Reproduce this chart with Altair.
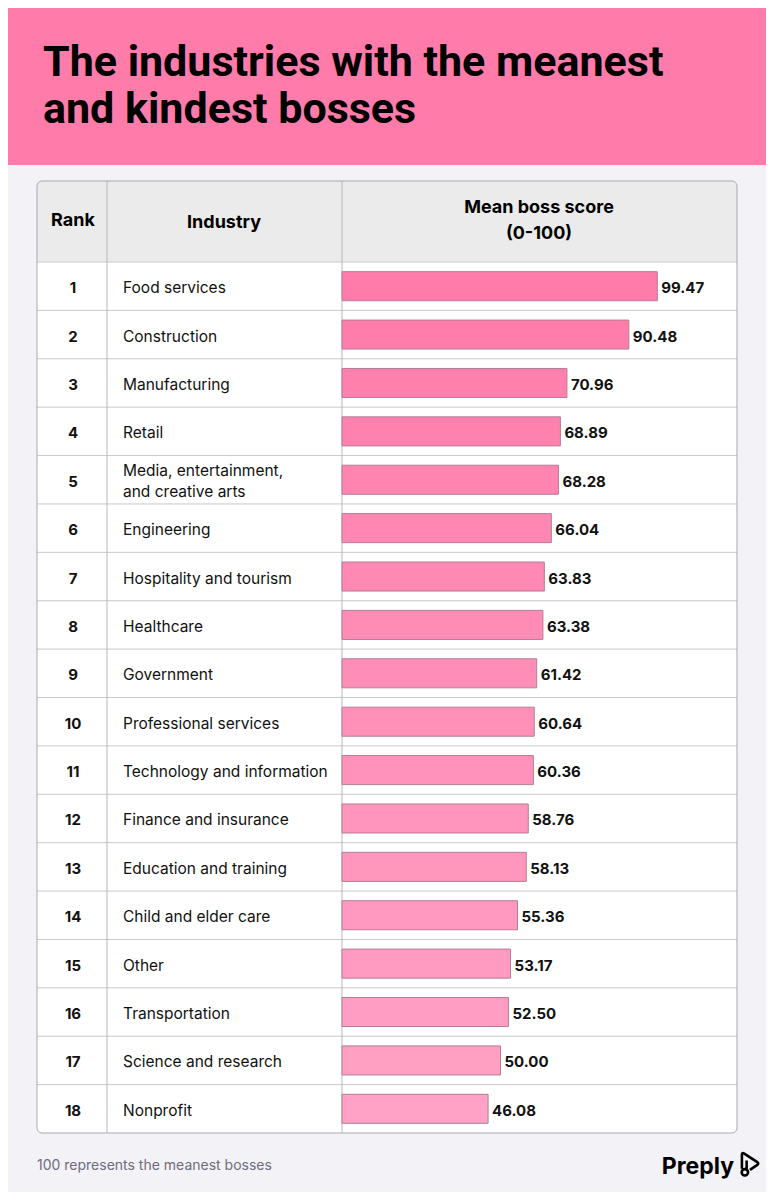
import altair as alt
import pandas as pd

# ---------------- data ----------------
ranks = list(range(1, 19))
industries = [
    "Food services", "Construction", "Manufacturing", "Retail",
    "Media, entertainment,\nand creative arts", "Engineering",
    "Hospitality and tourism", "Healthcare", "Government",
    "Professional services", "Technology and information",
    "Finance and insurance", "Education and training",
    "Child and elder care", "Other", "Transportation",
    "Science and research", "Nonprofit",
]
scores = [99.47, 90.48, 70.96, 68.89, 68.28, 66.04, 63.83, 63.38, 61.42,
          60.64, 60.36, 58.76, 58.13, 55.36, 53.17, 52.50, 50.00, 46.08]
score_labels = [f"{v:.2f}" for v in scores]

title_lines = ["The industries with the meanest", "and kindest bosses"]
header_rank = "Rank"
header_industry = "Industry"
header_score = ["Mean boss score", "(0-100)"]
footnote = "100 represents the meanest bosses"
brand = "Preply"

df = pd.DataFrame({"rank": ranks, "industry": industries,
                   "score": scores, "label": score_labels})
df["multi"] = df["industry"].str.contains("\n")
boundaries = pd.DataFrame({"k": list(range(0, 18))})
one = pd.DataFrame({"d": [0]})

# ---------------- layout ----------------
OX, OY = 8, 8            # page margin offset
W, H = 774 - 2 * OX, 1200 - 2 * OY
def px(x): return x - OX
def py(y): return y - OY

FONT = "Inter, Roboto, sans-serif"
TITLE_FONT = "Roboto, Liberation Sans, sans-serif"
PINK = "#FF7BA9"
BG = "#F3F2F7"
GRID = "#C9C9CE"
BORDER = "#A9A9AE"

T_L, T_R, T_T, T_B = px(37), px(737), py(181), py(1133)
HEAD_B = py(262)
COL1, COL2 = px(107), px(342)

yband = alt.Scale(type="band", domain=ranks, range=[HEAD_B, T_B],
                  paddingInner=0.4, paddingOuter=0.2)
xs = alt.Scale(domain=[0, 100], range=[COL2, px(659)])

base = alt.Chart(one)

pink_band = base.mark_rect(color=PINK).encode(
    x=alt.value(0), x2=alt.value(W), y=alt.value(0), y2=alt.value(py(165)))

title1 = base.mark_text(text=title_lines[0], font=TITLE_FONT, fontWeight="bold",
                        fontSize=43, align="left", baseline="alphabetic",
                        color="#000000").encode(x=alt.value(px(43)), y=alt.value(py(76)))
title2 = base.mark_text(text=title_lines[1], font=TITLE_FONT, fontWeight="bold",
                        fontSize=43, align="left", baseline="alphabetic",
                        color="#000000").encode(x=alt.value(px(43)), y=alt.value(py(123)))

table_bg = base.mark_rect(color="#FFFFFF", cornerRadius=5).encode(
    x=alt.value(T_L), x2=alt.value(T_R), y=alt.value(T_T), y2=alt.value(T_B))

head_bg = base.mark_rect(color="#EBEBEB", cornerRadiusTopLeft=5,
                         cornerRadiusTopRight=5).encode(
    x=alt.value(T_L), x2=alt.value(T_R), y=alt.value(T_T), y2=alt.value(HEAD_B))

row_lines = alt.Chart(boundaries).mark_rule(color=GRID, strokeWidth=1).encode(
    y=alt.Y("k:Q", scale=alt.Scale(domain=[0, 18], range=[HEAD_B, T_B]), axis=None),
    x=alt.value(T_L), x2=alt.value(T_R))

col_line1 = base.mark_rule(color="#B8B8BD", strokeWidth=1).encode(
    x=alt.value(COL1), y=alt.value(T_T), y2=alt.value(T_B))
col_line2 = base.mark_rule(color="#B8B8BD", strokeWidth=1).encode(
    x=alt.value(COL2), y=alt.value(T_T), y2=alt.value(T_B))

bars = alt.Chart(df).mark_bar(stroke="#B57C95", strokeWidth=1).encode(
    y=alt.Y("rank:O", scale=yband, axis=None),
    x=alt.X("score:Q", scale=xs, axis=None),
    color=alt.Color("rank:Q", scale=alt.Scale(domain=[1, 18],
                    range=["#FF7BA9", "#FFA2C5"]), legend=None),
)

value_text = alt.Chart(df).mark_text(align="left", dx=4, dy=2, font=FONT,
                                     fontWeight="bold", fontSize=15,
                                     color="#111111").encode(
    y=alt.Y("rank:O", scale=yband, axis=None),
    x=alt.X("score:Q", scale=xs, axis=None),
    text="label:N")

rank_text = alt.Chart(df).mark_text(align="center", dy=2, font=FONT, fontWeight="bold",
                                    fontSize=15, color="#111111").encode(
    y=alt.Y("rank:O", scale=yband, axis=None),
    x=alt.value(px(73)),
    text="rank:N")

industry_single = alt.Chart(df).transform_filter("!datum.multi").mark_text(
    align="left", dy=2, font=FONT, fontSize=15.5, color="#111111").encode(
    y=alt.Y("rank:O", scale=yband, axis=None),
    x=alt.value(px(123)),
    text="industry:N")

industry_multi = alt.Chart(df).transform_filter("datum.multi").mark_text(
    align="left", font=FONT, fontSize=15.5, lineBreak="\n", lineHeight=21, dy=-9,
    color="#111111").encode(
    y=alt.Y("rank:O", scale=yband, axis=None),
    x=alt.value(px(123)),
    text="industry:N")

h_rank = base.mark_text(text=header_rank, font=FONT, fontWeight="bold", fontSize=18,
                        align="center", baseline="middle", color="#000").encode(
    x=alt.value(px(73)), y=alt.value(py(221)))
h_ind = base.mark_text(text=header_industry, font=FONT, fontWeight="bold", fontSize=18,
                       align="center", baseline="middle", color="#000").encode(
    x=alt.value(px(224)), y=alt.value(py(223)))
h_sc1 = base.mark_text(text=header_score[0], font=FONT, fontWeight="bold", fontSize=18,
                       align="center", baseline="middle", color="#000").encode(
    x=alt.value(px(539)), y=alt.value(py(208)))
h_sc2 = base.mark_text(text=header_score[1], font=FONT, fontWeight="bold", fontSize=18,
                       align="center", baseline="middle", color="#000").encode(
    x=alt.value(px(539)), y=alt.value(py(234)))

table_outline = base.mark_rect(fillOpacity=0, stroke=BORDER, strokeWidth=1,
                               cornerRadius=5).encode(
    x=alt.value(T_L), x2=alt.value(T_R), y=alt.value(T_T), y2=alt.value(T_B))

foot = base.mark_text(text=footnote, font=FONT, fontSize=14, align="left",
                      baseline="middle", color="#6E6C7E").encode(
    x=alt.value(px(37)), y=alt.value(py(1166)))
logo = base.mark_text(text=brand, font=FONT, fontWeight="bold", fontSize=23,
                      align="right", baseline="middle", color="#000").encode(
    x=alt.value(px(734)), y=alt.value(py(1167)))

ICON = ("M -0.6 0.4 L -0.6 -0.78 Q -0.6 -1 -0.4 -0.88 L 0.7 -0.16 "
        "Q 0.86 -0.04 0.7 0.08 L 0.08 0.5 "
        "M -0.2 -0.3 L -0.2 0.45 "
        "M -0.62 0.7 A 0.27 0.27 0 1 0 -0.08 0.7 A 0.27 0.27 0 1 0 -0.62 0.7")
logo_icon = base.mark_point(shape=ICON, size=560, filled=False, stroke="#000",
                            strokeWidth=2.6, opacity=1).encode(
    x=alt.value(px(749)), y=alt.value(py(1164)))

chart = alt.layer(
    pink_band, title1, title2, table_bg, head_bg, row_lines, col_line1, col_line2,
    bars, value_text, rank_text, industry_single, industry_multi,
    h_rank, h_ind, h_sc1, h_sc2, table_outline, foot, logo, logo_icon,
).resolve_scale(y="independent", x="independent").properties(
    width=W, height=H, autosize="none", padding=0, background=BG,
).configure_view(strokeWidth=0)

chart.save("out.html", embed_options={"renderer": "svg", "actions": False})
